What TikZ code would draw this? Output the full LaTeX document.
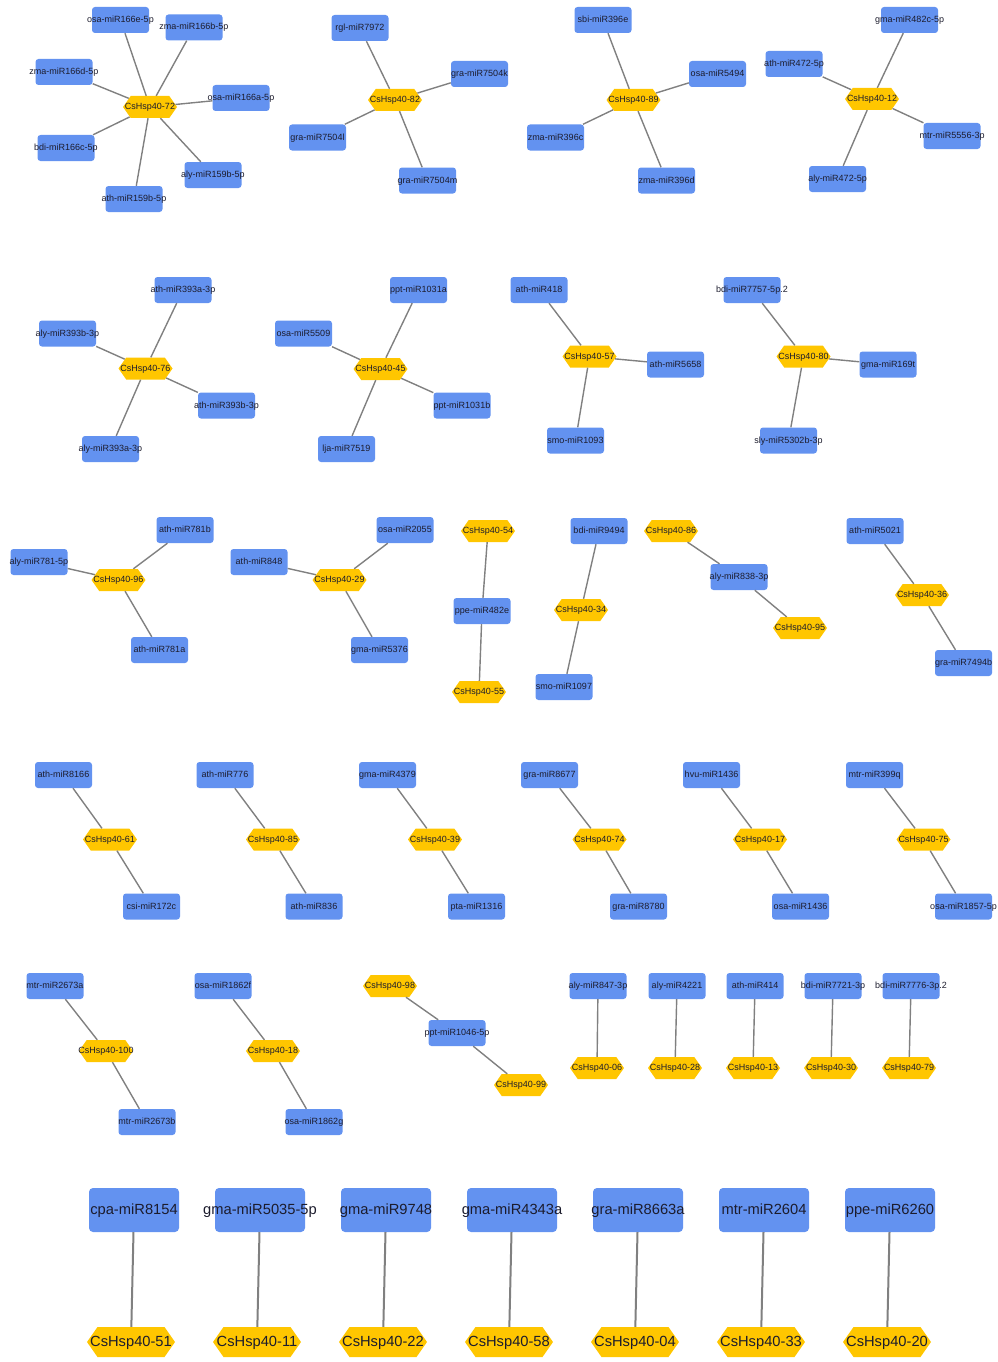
\documentclass[tikz,border=0pt]{standalone}
\usepackage{fontspec}
\setmainfont{Liberation Sans}
\usepackage{tikz}
\usetikzlibrary{shapes.symbols}
\definecolor{mirblue}{RGB}{99,146,240}
\definecolor{hspgold}{RGB}{255,198,0}
\definecolor{linkgray}{RGB}{128,128,128}
\definecolor{labelc}{RGB}{28,28,45}
\newcommand{\tx}[1]{\makebox[0pt]{#1}}

\begin{document}
\begin{tikzpicture}[x=1pt, y=-1pt,
    mir/.style={rectangle, rounded corners=3pt, fill=mirblue, minimum width=57pt,
        minimum height=26pt, inner sep=0pt, text=labelc, font=\fontsize{9}{10}\selectfont,
        text height=6.5pt, text depth=1.5pt},
    hsp/.style={signal, signal to=east and west, signal pointer angle=110, fill=hspgold,
        minimum width=54pt, minimum height=22pt, inner sep=0pt, text=labelc,
        font=\fontsize{9}{10}\selectfont, text height=6.5pt, text depth=1.5pt},
    bigmir/.style={mir, rounded corners=4pt, minimum width=90pt, minimum height=44pt,
        font=\fontsize{14.7}{16}\selectfont, text height=10.5pt, text depth=2.5pt},
    bighsp/.style={hsp, minimum width=88pt, minimum height=30pt,
        font=\fontsize{14.7}{16}\selectfont, text height=10.5pt, text depth=2.5pt},
    link/.style={draw=linkgray, line width=1.4pt},
    biglink/.style={link, line width=2pt}]
    \useasboundingbox (0,0) rectangle (997,1362);

    % Row 1: CsHsp40-72 (seven miRNAs)
    \node[hsp] (h72) at (150,107) {\tx{CsHsp40-72}};
    \node[mir] (osa166e) at (120.5,20) {\tx{osa-miR166e-5p}};
    \node[mir] (zma166b) at (194,27.5) {\tx{zma-miR166b-5p}};
    \node[mir] (zma166d) at (64,72) {\tx{zma-miR166d-5p}};
    \node[mir] (osa166a) at (241,98) {\tx{osa-miR166a-5p}};
    \node[mir] (bdi166c) at (66,148) {\tx{bdi-miR166c-5p}};
    \node[mir] (aly159b) at (213,175) {\tx{aly-miR159b-5p}};
    \node[mir] (ath159b) at (134,199) {\tx{ath-miR159b-5p}};
    \draw[link] (h72) -- (osa166e);
    \draw[link] (h72) -- (zma166b);
    \draw[link] (h72) -- (zma166d);
    \draw[link] (h72) -- (osa166a);
    \draw[link] (h72) -- (bdi166c);
    \draw[link] (h72) -- (aly159b);
    \draw[link] (h72) -- (ath159b);

    % CsHsp40-82
    \node[hsp] (h82) at (395,100) {\tx{CsHsp40-82}};
    \node[mir] (rgl7972) at (360,28) {\tx{rgl-miR7972}};
    \node[mir] (gra7504k) at (479.5,74) {\tx{gra-miR7504k}};
    \node[mir] (gra7504l) at (317.5,137.5) {\tx{gra-miR7504l}};
    \node[mir] (gra7504m) at (427.5,180.5) {\tx{gra-miR7504m}};
    \draw[link] (h82) -- (rgl7972);
    \draw[link] (h82) -- (gra7504k);
    \draw[link] (h82) -- (gra7504l);
    \draw[link] (h82) -- (gra7504m);

    % CsHsp40-89
    \node[hsp] (h89) at (633.5,100) {\tx{CsHsp40-89}};
    \node[mir] (sbi396e) at (603,20) {\tx{sbi-miR396e}};
    \node[mir] (osa5494) at (717.5,74) {\tx{osa-miR5494}};
    \node[mir] (zma396c) at (555.5,137.5) {\tx{zma-miR396c}};
    \node[mir] (zma396d) at (666.5,180.5) {\tx{zma-miR396d}};
    \draw[link] (h89) -- (sbi396e);
    \draw[link] (h89) -- (osa5494);
    \draw[link] (h89) -- (zma396c);
    \draw[link] (h89) -- (zma396d);

    % CsHsp40-12
    \node[hsp] (h12) at (872,99) {\tx{CsHsp40-12}};
    \node[mir] (gma482c) at (909.5,20) {\tx{gma-miR482c-5p}};
    \node[mir] (ath472) at (794,64) {\tx{ath-miR472-5p}};
    \node[mir] (mtr5556) at (952,136) {\tx{mtr-miR5556-3p}};
    \node[mir] (aly472) at (837.5,179) {\tx{aly-miR472-5p}};
    \draw[link] (h12) -- (gma482c);
    \draw[link] (h12) -- (ath472);
    \draw[link] (h12) -- (mtr5556);
    \draw[link] (h12) -- (aly472);

    % Row 2: CsHsp40-76
    \node[hsp] (h76) at (145.5,368.5) {\tx{CsHsp40-76}};
    \node[mir] (ath393a) at (183,290) {\tx{ath-miR393a-3p}};
    \node[mir] (aly393b) at (67.5,333.5) {\tx{aly-miR393b-3p}};
    \node[mir] (ath393b) at (226.5,405.5) {\tx{ath-miR393b-3p}};
    \node[mir] (aly393a) at (110.5,449) {\tx{aly-miR393a-3p}};
    \draw[link] (h76) -- (ath393a);
    \draw[link] (h76) -- (aly393b);
    \draw[link] (h76) -- (ath393b);
    \draw[link] (h76) -- (aly393a);

    % CsHsp40-45
    \node[hsp] (h45) at (380.5,369) {\tx{CsHsp40-45}};
    \node[mir] (ppt1031a) at (418.5,290) {\tx{ppt-miR1031a}};
    \node[mir] (osa5509) at (303.5,333.5) {\tx{osa-miR5509}};
    \node[mir] (ppt1031b) at (462,405.5) {\tx{ppt-miR1031b}};
    \node[mir] (lja7519) at (346.5,449) {\tx{lja-miR7519}};
    \draw[link] (h45) -- (ppt1031a);
    \draw[link] (h45) -- (osa5509);
    \draw[link] (h45) -- (ppt1031b);
    \draw[link] (h45) -- (lja7519);

    % CsHsp40-57
    \node[hsp] (h57) at (589.5,356.5) {\tx{CsHsp40-57}};
    \node[mir] (ath418) at (539,290) {\tx{ath-miR418}};
    \node[mir] (ath5658) at (675.5,364.5) {\tx{ath-miR5658}};
    \node[mir] (smo1093) at (575.5,440.5) {\tx{smo-miR1093}};
    \draw[link] (h57) -- (ath418);
    \draw[link] (h57) -- (ath5658);
    \draw[link] (h57) -- (smo1093);

    % CsHsp40-80
    \node[hsp] (h80) at (803.5,356.5) {\tx{CsHsp40-80}};
    \node[mir] (bdi7757) at (752,290) {\tx{bdi-miR7757-5p.2}};
    \node[mir] (gma169t) at (888,364.5) {\tx{gma-miR169t}};
    \node[mir] (sly5302b) at (788.5,440.5) {\tx{sly-miR5302b-3p}};
    \draw[link] (h80) -- (bdi7757);
    \draw[link] (h80) -- (gma169t);
    \draw[link] (h80) -- (sly5302b);

    % Row 3: CsHsp40-96 and CsHsp40-29
    \node[hsp] (h96) at (118.5,580) {\tx{CsHsp40-96}};
    \node[mir] (ath781b) at (185,530) {\tx{ath-miR781b}};
    \node[mir] (aly781) at (39,562) {\tx{aly-miR781-5p}};
    \node[mir] (ath781a) at (159.5,650) {\tx{ath-miR781a}};
    \draw[link] (h96) -- (ath781b);
    \draw[link] (h96) -- (aly781);
    \draw[link] (h96) -- (ath781a);

    \node[hsp] (h29) at (339.5,580) {\tx{CsHsp40-29}};
    \node[mir] (osa2055) at (405,530) {\tx{osa-miR2055}};
    \node[mir] (ath848) at (259,562) {\tx{ath-miR848}};
    \node[mir] (gma5376) at (379.5,650) {\tx{gma-miR5376}};
    \draw[link] (h29) -- (osa2055);
    \draw[link] (h29) -- (ath848);
    \draw[link] (h29) -- (gma5376);

    % chains of three
    \node[hsp] (h54) at (488,531) {\tx{CsHsp40-54}};
    \node[mir] (ppe482e) at (482,611) {\tx{ppe-miR482e}};
    \node[hsp] (h55) at (479,692) {\tx{CsHsp40-55}};
    \draw[link] (h54) -- (ppe482e);
    \draw[link] (ppe482e) -- (h55);

    \node[mir] (bdi9494) at (599,531) {\tx{bdi-miR9494}};
    \node[hsp] (h34) at (581,610) {\tx{CsHsp40-34}};
    \node[mir] (smo1097) at (564,687) {\tx{smo-miR1097}};
    \draw[link] (bdi9494) -- (h34);
    \draw[link] (h34) -- (smo1097);

    \node[hsp] (h86) at (671,531) {\tx{CsHsp40-86}};
    \node[mir] (aly838) at (739,577) {\tx{aly-miR838-3p}};
    \node[hsp] (h95) at (800,628) {\tx{CsHsp40-95}};
    \draw[link] (h86) -- (aly838);
    \draw[link] (aly838) -- (h95);

    \node[mir] (ath5021) at (875,531) {\tx{ath-miR5021}};
    \node[hsp] (h36) at (922,595) {\tx{CsHsp40-36}};
    \node[mir] (gra7494b) at (963.5,663) {\tx{gra-miR7494b}};
    \draw[link] (ath5021) -- (h36);
    \draw[link] (h36) -- (gra7494b);

    % Row 4: miRNA - CsHsp40 - miRNA
    \node[mir] (ath8166) at (63.5,775) {\tx{ath-miR8166}};
    \node[hsp] (h61) at (110,839.5) {\tx{CsHsp40-61}};
    \node[mir] (csi172c) at (151.5,906.5) {\tx{csi-miR172c}};
    \draw[link] (ath8166) -- (h61);
    \draw[link] (h61) -- (csi172c);

    \node[mir] (ath776) at (225,775) {\tx{ath-miR776}};
    \node[hsp] (h85) at (273,839.5) {\tx{CsHsp40-85}};
    \node[mir] (ath836) at (314,906.5) {\tx{ath-miR836}};
    \draw[link] (ath776) -- (h85);
    \draw[link] (h85) -- (ath836);

    \node[mir] (gma4379) at (387.5,775) {\tx{gma-miR4379}};
    \node[hsp] (h39) at (435,839.5) {\tx{CsHsp40-39}};
    \node[mir] (pta1316) at (476.5,906.5) {\tx{pta-miR1316}};
    \draw[link] (gma4379) -- (h39);
    \draw[link] (h39) -- (pta1316);

    \node[mir] (gra8677) at (549.5,775) {\tx{gra-miR8677}};
    \node[hsp] (h74) at (599.5,839.5) {\tx{CsHsp40-74}};
    \node[mir] (gra8780) at (638.5,906.5) {\tx{gra-miR8780}};
    \draw[link] (gra8677) -- (h74);
    \draw[link] (h74) -- (gra8780);

    \node[mir] (hvu1436) at (711.5,775) {\tx{hvu-miR1436}};
    \node[hsp] (h17) at (760,839.5) {\tx{CsHsp40-17}};
    \node[mir] (osa1436) at (800.5,906.5) {\tx{osa-miR1436}};
    \draw[link] (hvu1436) -- (h17);
    \draw[link] (h17) -- (osa1436);

    \node[mir] (mtr399q) at (874.5,775) {\tx{mtr-miR399q}};
    \node[hsp] (h75) at (923.5,839.5) {\tx{CsHsp40-75}};
    \node[mir] (osa1857) at (963.5,906.5) {\tx{osa-miR1857-5p}};
    \draw[link] (mtr399q) -- (h75);
    \draw[link] (h75) -- (osa1857);

    % Row 5
    \node[mir] (mtr2673a) at (55,986) {\tx{mtr-miR2673a}};
    \node[hsp] (h100) at (106,1051) {\tx{CsHsp40-100}};
    \node[mir] (mtr2673b) at (147,1122) {\tx{mtr-miR2673b}};
    \draw[link] (mtr2673a) -- (h100);
    \draw[link] (h100) -- (mtr2673b);

    \node[mir] (osa1862f) at (223,986) {\tx{osa-miR1862f}};
    \node[hsp] (h18) at (273,1051) {\tx{CsHsp40-18}};
    \node[mir] (osa1862g) at (314,1122) {\tx{osa-miR1862g}};
    \draw[link] (osa1862f) -- (h18);
    \draw[link] (h18) -- (osa1862g);

    \node[hsp] (h98) at (390,986) {\tx{CsHsp40-98}};
    \node[mir] (ppt1046) at (457,1033) {\tx{ppt-miR1046-5p}};
    \node[hsp] (h99) at (521,1085) {\tx{CsHsp40-99}};
    \draw[link] (h98) -- (ppt1046);
    \draw[link] (ppt1046) -- (h99);

    % single pairs
    \node[mir] (aly847) at (598,986) {\tx{aly-miR847-3p}};
    \node[hsp] (h06) at (597,1068) {\tx{CsHsp40-06}};
    \draw[link] (aly847) -- (h06);
    \node[mir] (aly4221) at (677,986) {\tx{aly-miR4221}};
    \node[hsp] (h28) at (675,1068) {\tx{CsHsp40-28}};
    \draw[link] (aly4221) -- (h28);
    \node[mir] (ath414) at (755,986) {\tx{ath-miR414}};
    \node[hsp] (h13) at (753,1068) {\tx{CsHsp40-13}};
    \draw[link] (ath414) -- (h13);
    \node[mir] (bdi7721) at (833,986) {\tx{bdi-miR7721-3p}};
    \node[hsp] (h30) at (831,1068) {\tx{CsHsp40-30}};
    \draw[link] (bdi7721) -- (h30);
    \node[mir] (bdi7776) at (911,986) {\tx{bdi-miR7776-3p.2}};
    \node[hsp] (h79) at (909,1068) {\tx{CsHsp40-79}};
    \draw[link] (bdi7776) -- (h79);

    % Row 6: large pairs
    \node[bigmir] (cpa8154) at (134,1210) {\tx{cpa-miR8154}};
    \node[bighsp] (h51) at (131,1342) {\tx{CsHsp40-51}};
    \draw[biglink] (cpa8154) -- (h51);
    \node[bigmir] (gma5035) at (260,1210) {\tx{gma-miR5035-5p}};
    \node[bighsp] (h11) at (257,1342) {\tx{CsHsp40-11}};
    \draw[biglink] (gma5035) -- (h11);
    \node[bigmir] (gma9748) at (386,1210) {\tx{gma-miR9748}};
    \node[bighsp] (h22) at (383,1342) {\tx{CsHsp40-22}};
    \draw[biglink] (gma9748) -- (h22);
    \node[bigmir] (gma4343a) at (512,1210) {\tx{gma-miR4343a}};
    \node[bighsp] (h58) at (509,1342) {\tx{CsHsp40-58}};
    \draw[biglink] (gma4343a) -- (h58);
    \node[bigmir] (gra8663a) at (638,1210) {\tx{gra-miR8663a}};
    \node[bighsp] (h04) at (635,1342) {\tx{CsHsp40-04}};
    \draw[biglink] (gra8663a) -- (h04);
    \node[bigmir] (mtr2604) at (764,1210) {\tx{mtr-miR2604}};
    \node[bighsp] (h33) at (761,1342) {\tx{CsHsp40-33}};
    \draw[biglink] (mtr2604) -- (h33);
    \node[bigmir] (ppe6260) at (890,1210) {\tx{ppe-miR6260}};
    \node[bighsp] (h20) at (887,1342) {\tx{CsHsp40-20}};
    \draw[biglink] (ppe6260) -- (h20);
\end{tikzpicture}
\end{document}
